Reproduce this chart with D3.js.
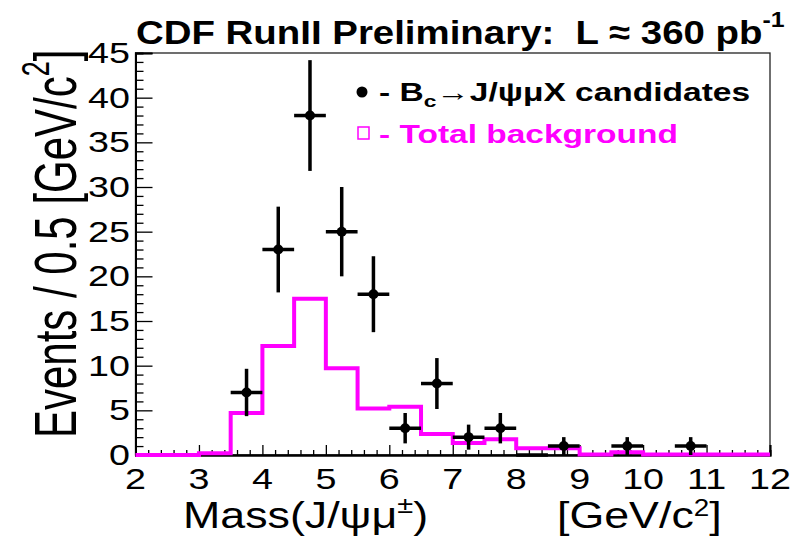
<!DOCTYPE html>
<html>
<head>
<meta charset="utf-8">
<script src="https://cdn.jsdelivr.net/npm/d3@7"></script>
<style>
  html, body { margin: 0; padding: 0; background: #fff; }
  svg { display: block; font-family: "Liberation Sans", Arial, Helvetica, sans-serif; }
  text { white-space: pre; }
</style>
</head>
<body>
<svg id="chart" width="801" height="536"></svg>
<script>
// Histogram bin edges (0.5 GeV/c^2 bins from 2 to 12)
const binEdges = [2, 2.5, 3, 3.5, 4, 4.5, 5, 5.5, 6, 6.5, 7, 7.5, 8, 8.5, 9, 9.5, 10, 10.5, 11, 11.5, 12];
// Total background per bin
const background = [0, 0, 0.2, 4.7, 12.2, 17.5, 9.7, 5.2, 5.4, 2.35, 1.35, 1.75, 0.75, 0.75, 0.05, 0.3, 0.05, 0.05, 0.05, 0.05];

// Candidate counts (bin centres, entries, errors)
const candMass = [3.75, 4.25, 4.75, 5.25, 5.75, 6.25, 6.75, 7.25, 7.75, 8.25, 8.75, 9.75, 10.75];
const candCount = [7, 23, 38, 25, 18, 3, 8, 2, 3, 0, 1, 1, 1];
const candError = [2.65, 4.8, 6.2, 5, 4.25, 1.7, 2.85, 1.4, 1.7, 0, 1, 1, 1];

// Axis tick labels
const xTicks = [2, 3, 4, 5, 6, 7, 8, 9, 10, 11, 12];
const yTicks = [0, 5, 10, 15, 20, 25, 30, 35, 40, 45];

const svg = d3.select("#chart");
const frame = { left: 135.5, right: 770, top: 53, bottom: 455 };

const x = d3.scaleLinear().domain([2, 12]).range([frame.left, frame.right]);
const y = d3.scaleLinear().domain([0, 45]).range([frame.bottom, frame.top]);

const MAGENTA = "#ff00ff";

// Frame
svg.append("rect")
  .attr("x", frame.left).attr("y", frame.top)
  .attr("width", frame.right - frame.left).attr("height", frame.bottom - frame.top)
  .attr("fill", "none").attr("stroke", "#222").attr("stroke-width", 1.3);

// Axes: ticks point into the frame
const xMinor = d3.range(20, 121, 2).map(d => d / 10).filter(d => !xTicks.includes(d));
const yMinor = d3.range(0, 46).filter(d => !yTicks.includes(d));

const gx = svg.append("g").attr("transform", `translate(0,${frame.bottom})`);
gx.call(d3.axisBottom(x).tickValues(xTicks).tickSize(-10).tickFormat(""));
gx.append("g").call(d3.axisBottom(x).tickValues(xMinor).tickSize(-5).tickFormat(""));
gx.selectAll("path.domain").attr("stroke", "#000").attr("stroke-width", 2);
gx.selectAll(".tick line").attr("stroke", "#000").attr("stroke-width", 1.3);

const gy = svg.append("g").attr("transform", `translate(${frame.left},0)`);
gy.call(d3.axisLeft(y).tickValues(yTicks).tickSize(-17).tickFormat(""));
gy.append("g").call(d3.axisLeft(y).tickValues(yMinor).tickSize(-8).tickFormat(""));
gy.selectAll("path.domain").attr("stroke", "#000").attr("stroke-width", 2);
gy.selectAll(".tick line").attr("stroke", "#000").attr("stroke-width", 1.3);

// Helper: horizontally stretched lettering
function stretchedText(px, py, opts) {
  const sx = opts.sx || 1.3;
  const tf = opts.rotate ? `rotate(-90) scale(1,${sx})` : `scale(${sx},1)`;
  const g = svg.append("g").attr("transform", `translate(${px},${py}) ${tf}`);
  return g.append("text")
    .attr("font-size", opts.size)
    .attr("font-weight", opts.bold ? "bold" : "normal")
    .attr("fill", opts.color || "#000")
    .attr("text-anchor", opts.anchor || "start");
}

// Tick labels
xTicks.forEach(v => {
  stretchedText(x(v), 489, { size: 29, anchor: "middle" }).text(v);
});
yTicks.forEach(v => {
  stretchedText(130, y(v) + 10, { size: 29, anchor: "end" }).text(v);
});

// Background histogram (step line)
const stepPts = [];
background.forEach((b, i) => {
  stepPts.push([binEdges[i], b]);
  stepPts.push([binEdges[i + 1], b]);
});
svg.append("path")
  .datum(stepPts)
  .attr("fill", "none")
  .attr("stroke", MAGENTA)
  .attr("stroke-width", 4)
  .attr("stroke-linejoin", "miter")
  .attr("d", d3.line().x(d => x(d[0])).y(d => y(d[1])));

// Candidates: error bars + markers
const cand = candMass.map((m, i) => ({ m, n: candCount[i], e: candError[i] }));
const gc = svg.append("g");
gc.selectAll("line.h").data(cand).join("line")
  .attr("x1", d => x(d.m - 0.25)).attr("x2", d => x(d.m + 0.25))
  .attr("y1", d => y(d.n)).attr("y2", d => y(d.n))
  .attr("stroke", "#000").attr("stroke-width", 3.5);
gc.selectAll("line.v").data(cand.filter(d => d.e > 0)).join("line")
  .attr("x1", d => x(d.m)).attr("x2", d => x(d.m))
  .attr("y1", d => y(d.n - d.e)).attr("y2", d => y(d.n + d.e))
  .attr("stroke", "#000").attr("stroke-width", 3.5);
gc.selectAll("circle").data(cand.filter(d => d.n > 0)).join("circle")
  .attr("cx", d => x(d.m)).attr("cy", d => y(d.n)).attr("r", 5).attr("fill", "#000");

// Title
const title = stretchedText(136, 44, { size: 34, bold: true, sx: 1.13 });
title.append("tspan").text("CDF RunII Preliminary:  L \u2248 360 pb");
title.append("tspan").attr("font-size", 22).attr("dy", -17).text("-1");

// Legend
svg.append("circle").attr("cx", 362).attr("cy", 92).attr("r", 5.5).attr("fill", "#000");
const leg1 = stretchedText(379, 101, { size: 25, bold: true, sx: 1.34 });
leg1.append("tspan").text("- B");
leg1.append("tspan").attr("font-size", 17).attr("dy", 6).text("c");
leg1.append("tspan").attr("dy", -6).text("\u2192J/\u03c8\u03bcX candidates");

svg.append("rect").attr("x", 358).attr("y", 127).attr("width", 11).attr("height", 12)
  .attr("fill", "none").attr("stroke", MAGENTA).attr("stroke-width", 1.5);
const leg2 = stretchedText(379, 143, { size: 25, bold: true, color: MAGENTA, sx: 1.34 });
leg2.text("- Total background");

// Axis titles
const xt = stretchedText(183, 528, { size: 37, sx: 1.21 });
xt.append("tspan").text("Mass(J/\u03c8\u03bc");
xt.append("tspan").attr("font-size", 24).attr("dy", -15).text("\u00b1");
xt.append("tspan").attr("dy", 15).text(")");

const xu = stretchedText(557, 528, { size: 37, sx: 1.21 });
xu.append("tspan").text("[GeV/c");
xu.append("tspan").attr("font-size", 23).attr("dy", -12).text("2");
xu.append("tspan").attr("dy", 12).text("]");

const yt = stretchedText(76, 438, { size: 42, rotate: true, sx: 1.42 });
yt.append("tspan").text("Events / 0.5 [GeV/c");
yt.append("tspan").attr("font-size", 27).attr("dy", -19).text("2");
yt.append("tspan").attr("dy", 19).text("]");
</script>
</body>
</html>
